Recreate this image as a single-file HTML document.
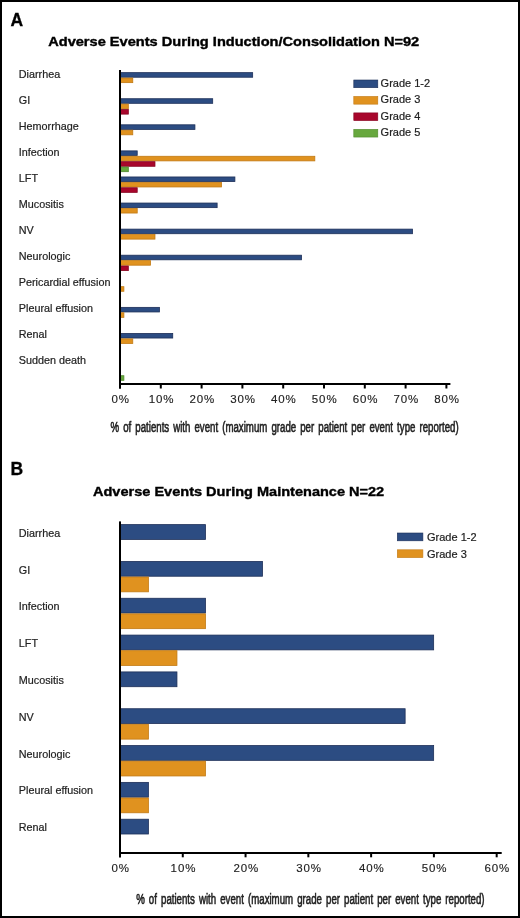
<!DOCTYPE html>
<html><head><meta charset="utf-8"><title>Adverse Events</title>
<style>html,body{margin:0;padding:0;background:#fff;width:520px;height:918px;overflow:hidden} svg{will-change:transform}</style>
</head><body>
<svg width="520" height="918" viewBox="0 0 520 918" style="display:block">
<rect x="0" y="0" width="520" height="918" fill="#fff"/>
<rect x="1" y="1" width="518" height="916" fill="none" stroke="#000" stroke-width="2"/>
<g font-family='"Liberation Sans", sans-serif'>
<text x="10.60" y="26.00" font-size="17.5" font-weight="bold" text-anchor="start" fill="#000" stroke="#000" stroke-width="0.3">A</text>
<text x="10.40" y="475.20" font-size="17.5" font-weight="bold" text-anchor="start" fill="#000" stroke="#000" stroke-width="0.3">B</text>
<text x="48.2" y="46.4" font-size="13.5" font-weight="bold" fill="#000" textLength="371" lengthAdjust="spacingAndGlyphs" stroke="#000" stroke-width="0.4">Adverse Events During Induction/Consolidation N=92</text>
<text x="93.0" y="496.2" font-size="13.5" font-weight="bold" fill="#000" textLength="291.2" lengthAdjust="spacingAndGlyphs" stroke="#000" stroke-width="0.4">Adverse Events During Maintenance N=22</text>
<rect x="120.40" y="72.64" width="132.26" height="4.60" fill="#2c4c82" stroke="#1d2f58" stroke-width="0.8"/>
<rect x="120.40" y="78.04" width="12.37" height="4.60" fill="#e0921f" stroke="#c27a14" stroke-width="0.8"/>
<text x="18.80" y="77.50" font-size="10.8" font-weight="normal" text-anchor="start" fill="#222222" stroke="#222222" stroke-width="0.2">Diarrhea</text>
<rect x="120.40" y="98.72" width="92.29" height="4.60" fill="#2c4c82" stroke="#1d2f58" stroke-width="0.8"/>
<rect x="120.40" y="104.12" width="7.93" height="4.60" fill="#e0921f" stroke="#c27a14" stroke-width="0.8"/>
<rect x="120.40" y="109.52" width="7.93" height="4.60" fill="#a8062c" stroke="#860420" stroke-width="0.8"/>
<text x="18.80" y="103.58" font-size="10.8" font-weight="normal" text-anchor="start" fill="#222222" stroke="#222222" stroke-width="0.2">GI</text>
<rect x="120.40" y="124.80" width="74.53" height="4.60" fill="#2c4c82" stroke="#1d2f58" stroke-width="0.8"/>
<rect x="120.40" y="130.20" width="12.37" height="4.60" fill="#e0921f" stroke="#c27a14" stroke-width="0.8"/>
<text x="18.80" y="129.66" font-size="10.8" font-weight="normal" text-anchor="start" fill="#222222" stroke="#222222" stroke-width="0.2">Hemorrhage</text>
<rect x="120.40" y="150.88" width="16.81" height="4.60" fill="#2c4c82" stroke="#1d2f58" stroke-width="0.8"/>
<rect x="120.40" y="156.28" width="194.42" height="4.60" fill="#e0921f" stroke="#c27a14" stroke-width="0.8"/>
<rect x="120.40" y="161.68" width="34.57" height="4.60" fill="#a8062c" stroke="#860420" stroke-width="0.8"/>
<rect x="120.40" y="167.08" width="7.93" height="4.60" fill="#67a83e" stroke="#4f8a2c" stroke-width="0.8"/>
<text x="18.80" y="155.74" font-size="10.8" font-weight="normal" text-anchor="start" fill="#222222" stroke="#222222" stroke-width="0.2">Infection</text>
<rect x="120.40" y="176.96" width="114.50" height="4.60" fill="#2c4c82" stroke="#1d2f58" stroke-width="0.8"/>
<rect x="120.40" y="182.36" width="101.17" height="4.60" fill="#e0921f" stroke="#c27a14" stroke-width="0.8"/>
<rect x="120.40" y="187.76" width="16.81" height="4.60" fill="#a8062c" stroke="#860420" stroke-width="0.8"/>
<text x="18.80" y="181.82" font-size="10.8" font-weight="normal" text-anchor="start" fill="#222222" stroke="#222222" stroke-width="0.2">LFT</text>
<rect x="120.40" y="203.04" width="96.73" height="4.60" fill="#2c4c82" stroke="#1d2f58" stroke-width="0.8"/>
<rect x="120.40" y="208.44" width="16.81" height="4.60" fill="#e0921f" stroke="#c27a14" stroke-width="0.8"/>
<text x="18.80" y="207.90" font-size="10.8" font-weight="normal" text-anchor="start" fill="#222222" stroke="#222222" stroke-width="0.2">Mucositis</text>
<rect x="120.40" y="229.12" width="292.10" height="4.60" fill="#2c4c82" stroke="#1d2f58" stroke-width="0.8"/>
<rect x="120.40" y="234.52" width="34.57" height="4.60" fill="#e0921f" stroke="#c27a14" stroke-width="0.8"/>
<text x="18.80" y="233.98" font-size="10.8" font-weight="normal" text-anchor="start" fill="#222222" stroke="#222222" stroke-width="0.2">NV</text>
<rect x="120.40" y="255.20" width="181.10" height="4.60" fill="#2c4c82" stroke="#1d2f58" stroke-width="0.8"/>
<rect x="120.40" y="260.60" width="30.13" height="4.60" fill="#e0921f" stroke="#c27a14" stroke-width="0.8"/>
<rect x="120.40" y="266.00" width="7.93" height="4.60" fill="#a8062c" stroke="#860420" stroke-width="0.8"/>
<text x="18.80" y="260.06" font-size="10.8" font-weight="normal" text-anchor="start" fill="#222222" stroke="#222222" stroke-width="0.2">Neurologic</text>
<rect x="120.40" y="286.68" width="3.49" height="4.60" fill="#e0921f" stroke="#c27a14" stroke-width="0.8"/>
<text x="18.80" y="286.14" font-size="10.8" font-weight="normal" text-anchor="start" fill="#222222" stroke="#222222" stroke-width="0.2">Pericardial effusion</text>
<rect x="120.40" y="307.36" width="39.01" height="4.60" fill="#2c4c82" stroke="#1d2f58" stroke-width="0.8"/>
<rect x="120.40" y="312.76" width="3.49" height="4.60" fill="#e0921f" stroke="#c27a14" stroke-width="0.8"/>
<text x="18.80" y="312.22" font-size="10.8" font-weight="normal" text-anchor="start" fill="#222222" stroke="#222222" stroke-width="0.2">Pleural effusion</text>
<rect x="120.40" y="333.44" width="52.33" height="4.60" fill="#2c4c82" stroke="#1d2f58" stroke-width="0.8"/>
<rect x="120.40" y="338.84" width="12.37" height="4.60" fill="#e0921f" stroke="#c27a14" stroke-width="0.8"/>
<text x="18.80" y="338.30" font-size="10.8" font-weight="normal" text-anchor="start" fill="#222222" stroke="#222222" stroke-width="0.2">Renal</text>
<rect x="120.40" y="375.72" width="3.49" height="4.60" fill="#67a83e" stroke="#4f8a2c" stroke-width="0.8"/>
<text x="18.80" y="364.38" font-size="10.8" font-weight="normal" text-anchor="start" fill="#222222" stroke="#222222" stroke-width="0.2">Sudden death</text>
<rect x="119.00" y="70.00" width="2" height="318.50" fill="#000"/>
<rect x="119.00" y="383.00" width="331.40" height="2" fill="#000"/>
<rect x="119.00" y="384.00" width="2" height="4.50" fill="#000"/>
<text x="120.70" y="402.70" font-size="11.5" font-weight="normal" text-anchor="middle" fill="#222222" letter-spacing="0.9" stroke="#222222" stroke-width="0.15">0%</text>
<rect x="159.80" y="384.00" width="2" height="4.50" fill="#000"/>
<text x="161.50" y="402.70" font-size="11.5" font-weight="normal" text-anchor="middle" fill="#222222" letter-spacing="0.9" stroke="#222222" stroke-width="0.15">10%</text>
<rect x="200.60" y="384.00" width="2" height="4.50" fill="#000"/>
<text x="202.30" y="402.70" font-size="11.5" font-weight="normal" text-anchor="middle" fill="#222222" letter-spacing="0.9" stroke="#222222" stroke-width="0.15">20%</text>
<rect x="241.40" y="384.00" width="2" height="4.50" fill="#000"/>
<text x="243.10" y="402.70" font-size="11.5" font-weight="normal" text-anchor="middle" fill="#222222" letter-spacing="0.9" stroke="#222222" stroke-width="0.15">30%</text>
<rect x="282.20" y="384.00" width="2" height="4.50" fill="#000"/>
<text x="283.90" y="402.70" font-size="11.5" font-weight="normal" text-anchor="middle" fill="#222222" letter-spacing="0.9" stroke="#222222" stroke-width="0.15">40%</text>
<rect x="323.00" y="384.00" width="2" height="4.50" fill="#000"/>
<text x="324.70" y="402.70" font-size="11.5" font-weight="normal" text-anchor="middle" fill="#222222" letter-spacing="0.9" stroke="#222222" stroke-width="0.15">50%</text>
<rect x="363.80" y="384.00" width="2" height="4.50" fill="#000"/>
<text x="365.50" y="402.70" font-size="11.5" font-weight="normal" text-anchor="middle" fill="#222222" letter-spacing="0.9" stroke="#222222" stroke-width="0.15">60%</text>
<rect x="404.60" y="384.00" width="2" height="4.50" fill="#000"/>
<text x="406.30" y="402.70" font-size="11.5" font-weight="normal" text-anchor="middle" fill="#222222" letter-spacing="0.9" stroke="#222222" stroke-width="0.15">70%</text>
<rect x="445.40" y="384.00" width="2" height="4.50" fill="#000"/>
<text x="447.10" y="402.70" font-size="11.5" font-weight="normal" text-anchor="middle" fill="#222222" letter-spacing="0.9" stroke="#222222" stroke-width="0.15">80%</text>
<text x="110.50" y="432.00" font-size="14" font-weight="normal" fill="#222222" textLength="348.20" lengthAdjust="spacingAndGlyphs" word-spacing="2" stroke="#222222" stroke-width="0.6">% of patients with event (maximum grade per patient per event type reported)</text>
<rect x="353.80" y="80.00" width="24.00" height="7.70" fill="#2c4c82" stroke="#1d2f58" stroke-width="0.6"/>
<text x="380.60" y="86.60" font-size="11" font-weight="normal" text-anchor="start" fill="#222222" stroke="#222222" stroke-width="0.2">Grade 1-2</text>
<rect x="353.80" y="96.45" width="24.00" height="7.70" fill="#e0921f" stroke="#c27a14" stroke-width="0.6"/>
<text x="380.60" y="103.05" font-size="11" font-weight="normal" text-anchor="start" fill="#222222" stroke="#222222" stroke-width="0.2">Grade 3</text>
<rect x="353.80" y="112.90" width="24.00" height="7.70" fill="#a8062c" stroke="#860420" stroke-width="0.6"/>
<text x="380.60" y="119.50" font-size="11" font-weight="normal" text-anchor="start" fill="#222222" stroke="#222222" stroke-width="0.2">Grade 4</text>
<rect x="353.80" y="129.35" width="24.00" height="7.70" fill="#67a83e" stroke="#4f8a2c" stroke-width="0.6"/>
<text x="380.60" y="135.95" font-size="11" font-weight="normal" text-anchor="start" fill="#222222" stroke="#222222" stroke-width="0.2">Grade 5</text>
<rect x="120.40" y="524.61" width="85.07" height="14.80" fill="#2c4c82" stroke="#1d2f58" stroke-width="0.8"/>
<text x="18.80" y="536.70" font-size="10.8" font-weight="normal" text-anchor="start" fill="#222222" stroke="#222222" stroke-width="0.2">Diarrhea</text>
<rect x="120.40" y="561.43" width="142.11" height="14.80" fill="#2c4c82" stroke="#1d2f58" stroke-width="0.8"/>
<rect x="120.40" y="577.03" width="28.02" height="14.80" fill="#e0921f" stroke="#c27a14" stroke-width="0.8"/>
<text x="18.80" y="573.52" font-size="10.8" font-weight="normal" text-anchor="start" fill="#222222" stroke="#222222" stroke-width="0.2">GI</text>
<rect x="120.40" y="598.26" width="85.07" height="14.80" fill="#2c4c82" stroke="#1d2f58" stroke-width="0.8"/>
<rect x="120.40" y="613.86" width="85.07" height="14.80" fill="#e0921f" stroke="#c27a14" stroke-width="0.8"/>
<text x="18.80" y="610.35" font-size="10.8" font-weight="normal" text-anchor="start" fill="#222222" stroke="#222222" stroke-width="0.2">Infection</text>
<rect x="120.40" y="635.08" width="313.25" height="14.80" fill="#2c4c82" stroke="#1d2f58" stroke-width="0.8"/>
<rect x="120.40" y="650.68" width="56.55" height="14.80" fill="#e0921f" stroke="#c27a14" stroke-width="0.8"/>
<text x="18.80" y="647.17" font-size="10.8" font-weight="normal" text-anchor="start" fill="#222222" stroke="#222222" stroke-width="0.2">LFT</text>
<rect x="120.40" y="671.91" width="56.55" height="14.80" fill="#2c4c82" stroke="#1d2f58" stroke-width="0.8"/>
<text x="18.80" y="684.00" font-size="10.8" font-weight="normal" text-anchor="start" fill="#222222" stroke="#222222" stroke-width="0.2">Mucositis</text>
<rect x="120.40" y="708.73" width="284.73" height="14.80" fill="#2c4c82" stroke="#1d2f58" stroke-width="0.8"/>
<rect x="120.40" y="724.33" width="28.02" height="14.80" fill="#e0921f" stroke="#c27a14" stroke-width="0.8"/>
<text x="18.80" y="720.82" font-size="10.8" font-weight="normal" text-anchor="start" fill="#222222" stroke="#222222" stroke-width="0.2">NV</text>
<rect x="120.40" y="745.56" width="313.25" height="14.80" fill="#2c4c82" stroke="#1d2f58" stroke-width="0.8"/>
<rect x="120.40" y="761.16" width="85.07" height="14.80" fill="#e0921f" stroke="#c27a14" stroke-width="0.8"/>
<text x="18.80" y="757.65" font-size="10.8" font-weight="normal" text-anchor="start" fill="#222222" stroke="#222222" stroke-width="0.2">Neurologic</text>
<rect x="120.40" y="782.38" width="28.02" height="14.80" fill="#2c4c82" stroke="#1d2f58" stroke-width="0.8"/>
<rect x="120.40" y="797.98" width="28.02" height="14.80" fill="#e0921f" stroke="#c27a14" stroke-width="0.8"/>
<text x="18.80" y="794.47" font-size="10.8" font-weight="normal" text-anchor="start" fill="#222222" stroke="#222222" stroke-width="0.2">Pleural effusion</text>
<rect x="120.40" y="819.21" width="28.02" height="14.80" fill="#2c4c82" stroke="#1d2f58" stroke-width="0.8"/>
<text x="18.80" y="831.30" font-size="10.8" font-weight="normal" text-anchor="start" fill="#222222" stroke="#222222" stroke-width="0.2">Renal</text>
<rect x="119.00" y="521.40" width="2" height="335.90" fill="#000"/>
<rect x="119.00" y="852.00" width="382.70" height="2" fill="#000"/>
<rect x="119.00" y="853.00" width="2" height="4.30" fill="#000"/>
<text x="120.70" y="872.40" font-size="11.5" font-weight="normal" text-anchor="middle" fill="#222222" letter-spacing="0.9" stroke="#222222" stroke-width="0.15">0%</text>
<rect x="181.78" y="853.00" width="2" height="4.30" fill="#000"/>
<text x="183.48" y="872.40" font-size="11.5" font-weight="normal" text-anchor="middle" fill="#222222" letter-spacing="0.9" stroke="#222222" stroke-width="0.15">10%</text>
<rect x="244.56" y="853.00" width="2" height="4.30" fill="#000"/>
<text x="246.26" y="872.40" font-size="11.5" font-weight="normal" text-anchor="middle" fill="#222222" letter-spacing="0.9" stroke="#222222" stroke-width="0.15">20%</text>
<rect x="307.34" y="853.00" width="2" height="4.30" fill="#000"/>
<text x="309.04" y="872.40" font-size="11.5" font-weight="normal" text-anchor="middle" fill="#222222" letter-spacing="0.9" stroke="#222222" stroke-width="0.15">30%</text>
<rect x="370.12" y="853.00" width="2" height="4.30" fill="#000"/>
<text x="371.82" y="872.40" font-size="11.5" font-weight="normal" text-anchor="middle" fill="#222222" letter-spacing="0.9" stroke="#222222" stroke-width="0.15">40%</text>
<rect x="432.90" y="853.00" width="2" height="4.30" fill="#000"/>
<text x="434.60" y="872.40" font-size="11.5" font-weight="normal" text-anchor="middle" fill="#222222" letter-spacing="0.9" stroke="#222222" stroke-width="0.15">50%</text>
<rect x="495.68" y="853.00" width="2" height="4.30" fill="#000"/>
<text x="497.38" y="872.40" font-size="11.5" font-weight="normal" text-anchor="middle" fill="#222222" letter-spacing="0.9" stroke="#222222" stroke-width="0.15">60%</text>
<text x="136.20" y="904.20" font-size="14" font-weight="normal" fill="#222222" textLength="348.40" lengthAdjust="spacingAndGlyphs" word-spacing="2" stroke="#222222" stroke-width="0.6">% of patients with event (maximum grade per patient per event type reported)</text>
<rect x="397.30" y="533.00" width="25.60" height="7.80" fill="#2c4c82" stroke="#1d2f58" stroke-width="0.6"/>
<text x="427.00" y="541.00" font-size="11" font-weight="normal" text-anchor="start" fill="#222222" stroke="#222222" stroke-width="0.2">Grade 1-2</text>
<rect x="397.30" y="549.80" width="25.60" height="7.80" fill="#e0921f" stroke="#c27a14" stroke-width="0.6"/>
<text x="427.00" y="557.80" font-size="11" font-weight="normal" text-anchor="start" fill="#222222" stroke="#222222" stroke-width="0.2">Grade 3</text>
</g></svg>
</body></html>
